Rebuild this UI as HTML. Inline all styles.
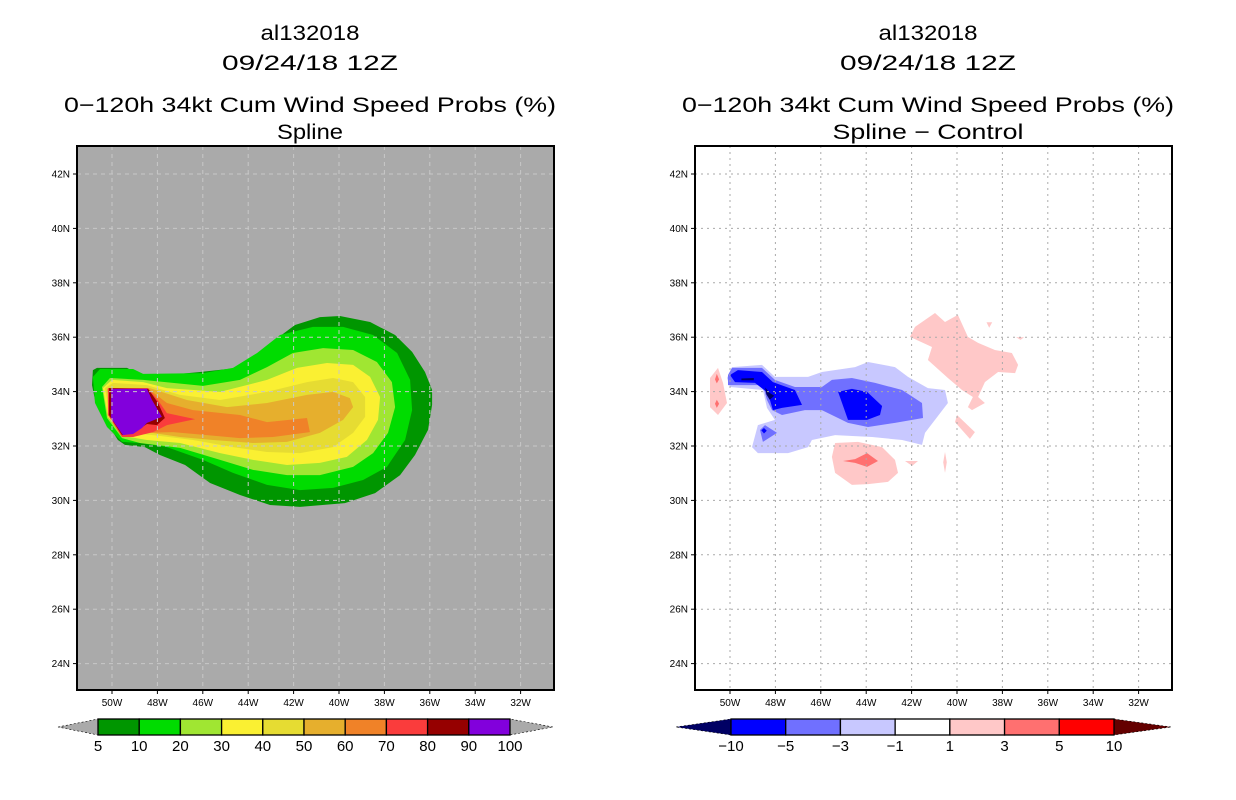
<!DOCTYPE html>
<html><head><meta charset="utf-8"><title>al132018 wind speed probs</title>
<style>
html,body{margin:0;padding:0;background:#fff;}
svg{display:block;font-family:"Liberation Sans",sans-serif;}
</style></head>
<body>
<svg id="chart" width="1236" height="800" viewBox="0 0 1236 800" xmlns="http://www.w3.org/2000/svg"></svg>
<script>
// ---------- data ----------
const lonTicks = [50,48,46,44,42,40,38,36,34,32];
const latTicks = [42,40,38,36,34,32,30,28,26,24];
const leftLevels = ["5","10","20","30","40","50","60","70","80","90","100"];
const leftColors = ["#009600","#00dc00","#a0e632","#faf032","#e6dc32","#e6af2d","#f08228","#fa3c3c","#960000","#8200dc"];
const rightLevels = ["-10","-5","-3","-1","1","3","5","10"];
const rightColors = ["#0000ff","#7070ff","#c8c8ff","#ffffff","#ffc8c8","#ff7070","#ff0000"];

// left panel: nested probability contours [lon W, lat N]
const p5 = [[50.84,34.79],[50.66,34.87],[49.34,34.87],[48.90,34.68],[48.11,34.57],[46.12,34.72],[44.14,34.90],[43.48,35.24],[42.82,35.90],[41.94,36.45],[40.84,36.74],[39.96,36.78],[38.63,36.56],[37.53,36.08],[36.78,35.46],[36.21,34.72],[35.90,34.06],[35.90,33.51],[36.08,32.59],[36.65,31.67],[37.31,30.93],[38.41,30.27],[39.74,29.90],[41.72,29.76],[43.04,29.83],[44.36,30.20],[45.68,30.64],[46.78,31.30],[47.89,31.67],[48.55,31.96],[49.43,32.04],[49.74,32.22],[50.31,32.96],[50.75,33.69],[50.88,34.24]];
const p10 = [[50.84,34.54],[50.53,34.83],[49.07,34.83],[48.63,34.65],[45.99,34.68],[44.67,34.87],[43.61,35.42],[42.60,36.08],[41.15,36.38],[39.82,36.38],[38.50,36.08],[37.44,35.42],[36.87,34.43],[36.78,33.32],[37.09,32.22],[37.89,31.23],[38.94,30.75],[40.26,30.46],[41.72,30.38],[43.17,30.57],[44.67,31.01],[45.99,31.49],[47.58,31.96],[48.77,32.11],[49.56,32.15],[50.22,32.70],[50.75,33.58]];
const p20 = [[50.44,34.17],[50.09,34.50],[48.63,34.43],[45.99,34.21],[44.36,34.43],[43.17,34.90],[42.03,35.42],[40.70,35.60],[39.38,35.53],[38.33,35.09],[37.67,34.35],[37.53,33.43],[37.84,32.48],[38.50,31.74],[39.38,31.23],[40.84,30.93],[42.29,30.93],[43.79,31.12],[45.24,31.49],[47.00,31.93],[48.77,32.11],[49.56,32.29],[50.22,33.03]];
const p30 = [[50.40,34.13],[50.00,34.43],[48.63,34.35],[47.58,34.13],[45.24,33.99],[43.17,34.43],[41.85,34.87],[40.53,35.05],[39.38,34.98],[38.63,34.54],[38.19,33.80],[38.28,32.96],[38.77,32.22],[39.65,31.60],[40.84,31.38],[42.29,31.30],[43.79,31.49],[45.24,31.74],[47.00,32.11],[48.46,32.22],[49.52,32.37],[50.18,33.07]];
const p40 = [[50.31,34.13],[49.96,34.32],[48.46,34.24],[47.00,33.88],[45.24,33.69],[43.17,33.99],[41.41,34.35],[40.26,34.50],[39.38,34.35],[38.85,33.80],[38.85,33.07],[39.38,32.48],[40.26,31.96],[41.72,31.74],[43.17,31.78],[44.67,31.96],[46.43,32.22],[48.19,32.40],[49.34,32.48],[50.09,33.14]];
const p50 = [[50.22,34.10],[48.33,34.13],[46.70,33.69],[44.93,33.43],[43.17,33.58],[41.41,33.88],[40.26,33.99],[39.52,33.76],[39.38,33.43],[39.82,32.96],[40.84,32.48],[42.29,32.15],[43.79,32.11],[45.55,32.22],[47.00,32.33],[48.46,32.51],[49.34,32.51],[50.00,33.21]];
const p60 = [[50.18,34.06],[48.33,34.06],[47.58,33.58],[46.43,33.32],[44.36,33.14],[43.17,32.88],[41.41,33.03],[41.28,32.51],[42.91,32.33],[44.36,32.29],[45.81,32.40],[47.31,32.51],[48.77,32.48],[49.52,32.40],[50.09,33.21]];
const p70 = [[50.18,34.13],[48.41,34.13],[47.89,33.58],[47.58,33.21],[46.34,32.99],[47.58,32.77],[48.19,32.51],[49.07,32.33],[49.56,32.33],[50.18,33.14]];
const p80 = [[50.13,34.13],[48.41,34.10],[47.97,33.58],[47.67,33.03],[48.02,32.77],[48.46,32.81],[49.07,32.48],[49.56,32.40],[50.13,33.14]];
const p90 = [[50.04,34.10],[48.46,34.10],[48.24,33.69],[47.80,33.07],[48.46,32.85],[48.68,32.66],[49.07,32.44],[49.52,32.40],[50.04,33.03]];
const leftShapes = [p5,p10,p20,p30,p40,p50,p60,p70,p80,p90];

// right panel: difference contours, each [level index, polygon]
const dPinkNE = [[42.07,36.01],[41.85,36.38],[40.97,36.89],[40.53,36.56],[39.96,36.82],[39.52,36.01],[39.07,35.79],[38.33,35.53],[37.58,35.42],[37.31,34.98],[37.44,34.68],[38.19,34.72],[38.77,34.35],[39.07,33.80],[38.77,33.58],[39.34,33.32],[39.52,33.43],[39.30,33.80],[39.78,34.06],[40.40,34.50],[41.28,35.16],[41.10,35.64]];
const dPinkSmall1 = [[40.00,33.14],[39.21,32.51],[39.43,32.26],[40.09,32.88]];
const dPinkSmall2 = [[38.70,36.55],[38.45,36.55],[38.58,36.35]];
const dPinkSmall3 = [[37.40,36.0],[37.05,36.0],[37.2,35.9]];
const dPinkSouth = [[45.37,32.11],[44.36,32.15],[43.30,31.96],[42.73,31.49],[42.60,31.01],[43.04,30.68],[43.92,30.60],[44.63,30.57],[45.37,31.01],[45.51,31.60]];
const dRedSouth = [[45.02,31.45],[44.49,31.52],[43.96,31.74],[43.48,31.45],[43.96,31.23],[44.49,31.38]];
const dPinkTri = [[42.29,31.45],[41.72,31.45],[41.98,31.27]];
const dPinkThin = [[40.53,31.78],[40.45,31.40],[40.53,31.01],[40.61,31.40]];
const dPinkWest = [[50.88,34.50],[50.53,34.87],[50.31,34.32],[50.13,33.58],[50.53,33.14],[50.88,33.43]];
const dRedWest1 = [[50.58,34.65],[50.48,34.45],[50.58,34.30],[50.66,34.45]];
const dRedWest2 = [[50.58,33.70],[50.48,33.55],[50.58,33.40],[50.66,33.55]];
const dBlue1 = [[50.13,34.50],[49.91,34.90],[48.59,34.98],[48.02,34.54],[46.56,34.54],[45.95,34.72],[44.49,34.90],[43.92,35.09],[42.73,34.90],[42.16,34.54],[41.28,34.13],[40.53,34.06],[40.40,33.58],[41.41,32.48],[41.54,32.04],[42.42,32.22],[43.74,32.33],[45.37,32.40],[46.39,32.22],[46.56,31.96],[47.44,31.74],[48.77,31.74],[49.03,31.96],[48.77,32.77],[48.02,32.96],[48.37,33.40],[48.55,34.06],[50.00,34.17]];
const dBlue3 = [[50.09,34.61],[49.91,34.87],[48.59,34.87],[48.02,34.43],[47.14,34.17],[45.95,34.17],[45.51,34.43],[44.63,34.50],[43.61,34.32],[42.42,34.06],[41.54,33.58],[41.50,33.03],[42.73,32.85],[43.92,32.70],[44.80,32.85],[45.95,33.32],[46.70,33.32],[47.71,33.14],[48.15,33.32],[48.37,33.69],[48.55,34.24],[50.09,34.24]];
const dBlue3b = [[48.68,32.59],[48.46,32.77],[47.93,32.48],[48.55,32.15]];
const dBlue5a = [[50.00,34.61],[49.65,34.79],[48.59,34.72],[48.11,34.35],[47.14,34.06],[46.83,33.51],[47.71,33.40],[48.11,33.32],[48.33,33.95],[48.90,34.32],[49.78,34.35]];
const dBlue5b = [[45.24,33.99],[44.63,34.10],[43.96,33.99],[43.30,33.47],[43.39,33.14],[43.96,32.96],[44.80,32.96]];
const dBlue5c = [[48.62,32.58],[48.50,32.66],[48.38,32.56],[48.50,32.46]];
const dNavy1 = [[48.45,34.15],[48.25,33.95],[48.05,33.85],[48.25,33.70],[48.40,33.90]];
const dNavy2 = [[49.50,34.48],[48.95,34.50],[48.95,34.42],[49.50,34.42]];
const rightShapes = [[4,dPinkNE],[4,dPinkSmall1],[4,dPinkSmall2],[4,dPinkSmall3],[4,dPinkSouth],[5,dRedSouth],[4,dPinkTri],[4,dPinkThin],[4,dPinkWest],[5,dRedWest1],[5,dRedWest2],[2,dBlue1],[1,dBlue3],[1,dBlue3b],[0,dBlue5a],[0,dBlue5b],[0,dBlue5c],[-1,dNavy1],[-1,dNavy2]];

// ---------- layout ----------
const NS = "http://www.w3.org/2000/svg";
const svg = document.getElementById("chart");
function mk(tag, attrs, parent){
  const e = document.createElementNS(NS, tag);
  for (const k in attrs) e.setAttribute(k, attrs[k]);
  (parent||svg).appendChild(e);
  return e;
}
function txt(x,y,s,size,anchor,parent,len){
  const a = {x:x,y:y,"font-size":size,"text-anchor":anchor||"middle",fill:"#000"};
  if (len) { a.textLength = len; a.lengthAdjust = "spacingAndGlyphs"; }
  const t = mk("text",a,parent);
  t.textContent = s;
  return t;
}
const panels = [
  {x0:77, cx:310, bg:"#aaaaaa", sub:"Spline", subLen:66, grid:"#c8c8c8", dash:"4,4", name:"spline-panel"},
  {x0:695, cx:928, bg:"#ffffff", sub:"Spline \u2212 Control", subLen:191, grid:"#aaaaaa", dash:"2,4", name:"difference-panel"}
];
const W = 477, Y0 = 146, H = 544;
function xScale(p, lon){ return p.x0 + 35 + (50 - lon) * 22.7; }
function yScale(lat){ return 174 + (42 - lat) * 27.2; }
function pts(p, poly){ return poly.map(q => xScale(p,q[0]).toFixed(1)+","+yScale(q[1]).toFixed(1)).join(" "); }

panels.forEach((p, pi) => {
  const g = mk("g",{});
  
  
  const t1 = txt(p.cx, 40, "al132018", 21, "middle", g, 99);
  
  
  const t2 = txt(p.cx, 70, "09/24/18 12Z", 21, "middle", g, 176);
  
  
  const t3 = txt(p.cx, 112, "0\u2212120h 34kt Cum Wind Speed Probs (%)", 21, "middle", g, 492);
  
  
  const t4 = txt(p.cx, 139, p.sub, 21, "middle", g, p.subLen);
  
  

  const clipId = "clip"+pi;
  const cp = mk("clipPath",{id:clipId},g);
  mk("rect",{x:p.x0,y:Y0,width:W,height:H},cp);
  const bg = mk("rect",{x:p.x0,y:Y0,width:W,height:H,fill:p.bg},g);
  
  
  const inner = mk("g",{"clip-path":"url(#"+clipId+")"},g);

  if (pi === 0) {
    leftShapes.forEach((poly, i) => {
      const e = mk("polygon",{points:pts(p,poly),fill:leftColors[i]},inner);
      
      
    });
  } else {
    rightShapes.forEach(s => {
      const col = s[0] < 0 ? "#000064" : rightColors[s[0]];
      const e = mk("polygon",{points:pts(p,s[1]),fill:col},inner);
      
      
    });
  }
  // grid
  lonTicks.forEach(lon => {
    const x = xScale(p,lon);
    const l = mk("line",{x1:x,y1:Y0,x2:x,y2:Y0+H,stroke:p.grid,"stroke-width":1,"stroke-dasharray":p.dash},inner);
    
    
  });
  latTicks.forEach(lat => {
    const y = yScale(lat);
    const l = mk("line",{x1:p.x0,y1:y,x2:p.x0+W,y2:y,stroke:p.grid,"stroke-width":1,"stroke-dasharray":p.dash},inner);
    
    
  });
  const fr = mk("rect",{x:p.x0,y:Y0,width:W,height:H,fill:"none",stroke:"#000","stroke-width":2},g);
  
  
  // ticks & labels
  lonTicks.forEach(lon => {
    const x = xScale(p,lon);
    mk("line",{x1:x,y1:Y0+H,x2:x,y2:Y0+H+4,stroke:"#000","stroke-width":1},g);
    const t = txt(x, Y0+H+16, lon+"W", 10, "middle", g);
    
    
  });
  latTicks.forEach(lat => {
    const y = yScale(lat);
    mk("line",{x1:p.x0-4,y1:y,x2:p.x0,y2:y,stroke:"#000","stroke-width":1},g);
    const t = txt(p.x0-7, y+3.5, lat+"N", 10, "end", g);
    
    
  });
});

// ---------- colour bars ----------
function colorbar(x0, x1, tipL, tipR, colors, labels, lcol, rcol, name){
  const g = mk("g",{});
  
  
  const y0 = 719, y1 = 735, ym = 727;
  const lt = mk("polygon",{points:tipL+","+ym+" "+x0+","+y0+" "+x0+","+y1,fill:lcol,stroke:"#000","stroke-width":0.6,"stroke-dasharray":"2,2"},g);
  
  
  const rt = mk("polygon",{points:tipR+","+ym+" "+x1+","+y0+" "+x1+","+y1,fill:rcol,stroke:"#000","stroke-width":0.6,"stroke-dasharray":"2,2"},g);
  
  
  const w = (x1-x0)/colors.length;
  colors.forEach((c,i) => {
    const r = mk("rect",{x:x0+i*w,y:y0,width:w,height:y1-y0,fill:c,stroke:"#000","stroke-width":1.3},g);
    
    
  });
  labels.forEach((s,i) => {
    const t = txt(x0+i*w, 751, s.replace("-","\u2212"), 15, "middle", g);
    
    
  });
}
colorbar(98, 510, 58, 553, leftColors, leftLevels, "#aaaaaa", "#aaaaaa", "probability-colorbar");
colorbar(731, 1114, 676, 1171, rightColors, rightLevels, "#000064", "#640000", "difference-colorbar");
</script>
</body></html>
